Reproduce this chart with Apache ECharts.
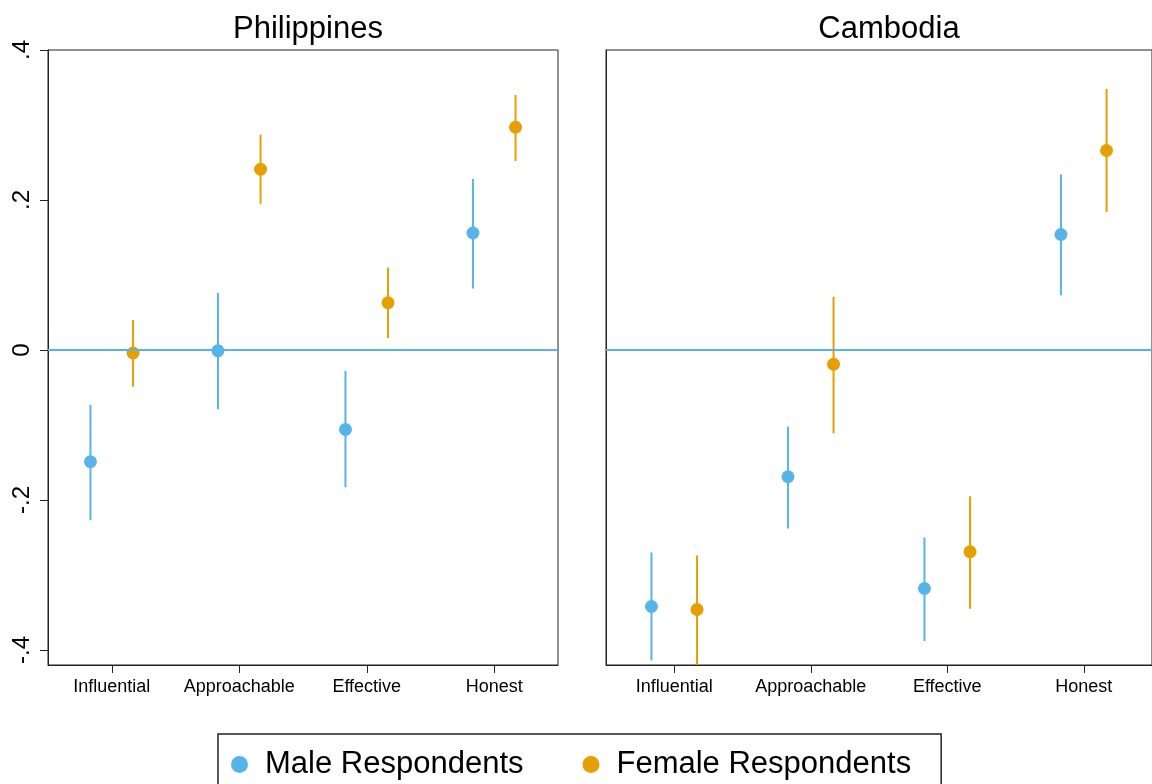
<!DOCTYPE html>
<html>
<head>
<meta charset="utf-8">
<script src="https://cdn.jsdelivr.net/npm/echarts@6/dist/echarts.min.js"></script>
<style>
html, body { margin: 0; padding: 0; background: #fff; }
#chart { width: 1152px; height: 784px; }
</style>
</head>
<body>
<div id="chart"></div>
<script>
// 类别
var categories = ["Influential", "Approachable", "Effective", "Honest"];
var panels = ["Philippines", "Cambodia"];
var yTicks = [-0.4, -0.2, 0, 0.2, 0.4];

// Philippines: 点估计 + 置信区间
var phMaleEst = [-0.149, -0.001, -0.106, 0.156];
var phMaleLo = [-0.227, -0.079, -0.183, 0.082];
var phMaleHi = [-0.073, 0.076, -0.028, 0.228];
var phFemEst = [-0.004, 0.241, 0.063, 0.297];
var phFemLo = [-0.049, 0.195, 0.016, 0.252];
var phFemHi = [0.040, 0.287, 0.110, 0.340];

// Cambodia
var khMaleEst = [-0.342, -0.169, -0.318, 0.154];
var khMaleLo = [-0.414, -0.238, -0.388, 0.073];
var khMaleHi = [-0.270, -0.102, -0.250, 0.234];
var khFemEst = [-0.346, -0.019, -0.269, 0.266];
var khFemLo = [-0.420, -0.111, -0.345, 0.184];
var khFemHi = [-0.274, 0.071, -0.195, 0.348];

var BLUE = "#56B4E9";
var ORANGE = "#E69F00";
var FONT = "'Liberation Sans', Arial, Helvetica, sans-serif";
var OFFSET = 0.167;
var MALE = "Male Respondents";
var FEMALE = "Female Respondents";

var grids = [
    { left: 48, top: 50, width: 510, height: 615 },
    { left: 606, top: 50, width: 556, height: 615 }
];

function fmtTick(v) {
    if (v === 0) return "0";
    return String(v).replace("0.", ".");
}

function renderBar(params, api) {
    var x = api.value(0);
    var p1 = api.coord([x, api.value(1)]);
    var p2 = api.coord([x, api.value(2)]);
    return {
        type: "line",
        shape: { x1: p1[0], y1: p1[1], x2: p2[0], y2: p2[1] },
        style: { stroke: api.visual("color"), lineWidth: 2 }
    };
}

function makeSeries(gi, est, lo, hi, off, name, color) {
    var bars = [], pts = [];
    est.forEach(function (v, i) {
        bars.push([i + off, lo[i], hi[i]]);
        pts.push([i + off, v]);
    });
    return [
        {
            type: "custom",
            name: name,
            xAxisIndex: gi * 2 + 1,
            yAxisIndex: gi,
            renderItem: renderBar,
            clip: true,
            itemStyle: { color: color },
            encode: { x: 0, y: [1, 2] },
            data: bars,
            z: 3
        },
        {
            type: "scatter",
            name: name,
            xAxisIndex: gi * 2 + 1,
            yAxisIndex: gi,
            symbol: "circle",
            symbolSize: 13,
            itemStyle: { color: color, opacity: 1 },
            data: pts,
            z: 4
        }
    ];
}

var xAxes = [], yAxes = [], titles = [];
grids.forEach(function (g, gi) {
    // 类别轴 (标签 + 刻度)
    xAxes.push({
        type: "category",
        gridIndex: gi,
        data: categories,
        boundaryGap: true,
        axisLine: { show: true, onZero: false, lineStyle: { color: "#222", width: 1 } },
        axisTick: { show: true, alignWithLabel: true, length: 8, lineStyle: { color: "#222" } },
        axisLabel: { color: "#000", fontSize: 18, fontFamily: FONT, margin: 13, interval: 0 },
        splitLine: { show: false }
    });
    // 隐藏数值轴 (定位点)
    xAxes.push({
        type: "value",
        gridIndex: gi,
        min: -0.5,
        max: 3.5,
        show: false
    });
    yAxes.push({
        type: "value",
        gridIndex: gi,
        min: -0.42,
        max: 0.4,
        axisLine: { show: true, onZero: false, lineStyle: { color: "#222", width: 1 } },
        axisTick: { show: gi === 0, length: 8, customValues: yTicks, lineStyle: { color: "#222" } },
        axisLabel: {
            show: gi === 0,
            customValues: yTicks,
            rotate: 90,
            margin: 14,
            color: "#000",
            fontSize: 24,
            fontFamily: FONT,
            formatter: fmtTick
        },
        splitLine: { show: false }
    });
    titles.push({
        text: panels[gi],
        left: g.left + g.width / 2,
        top: 9,
        textAlign: "center",
        textStyle: { fontSize: 31, fontWeight: "normal", color: "#000", fontFamily: FONT }
    });
});

var series = []
    .concat(makeSeries(0, phMaleEst, phMaleLo, phMaleHi, -OFFSET, MALE, BLUE))
    .concat(makeSeries(0, phFemEst, phFemLo, phFemHi, OFFSET, FEMALE, ORANGE))
    .concat(makeSeries(1, khMaleEst, khMaleLo, khMaleHi, -OFFSET, MALE, BLUE))
    .concat(makeSeries(1, khFemEst, khFemLo, khFemHi, OFFSET, FEMALE, ORANGE));

// 零参考线
[0, 1].forEach(function (gi) {
    series.push({
        type: "line",
        xAxisIndex: gi * 2 + 1,
        yAxisIndex: gi,
        data: [],
        silent: true,
        z: 2,
        markLine: {
            silent: true,
            symbol: "none",
            label: { show: false },
            lineStyle: { color: BLUE, width: 2, type: "solid" },
            data: [{ yAxis: 0 }]
        }
    });
});

var myChart = echarts.init(document.getElementById("chart"));
myChart.setOption({
    animation: false,
    backgroundColor: "#fff",
    title: titles,
    grid: grids.map(function (g) {
        return {
            left: g.left, top: g.top, width: g.width, height: g.height,
            show: true, borderColor: "#222", borderWidth: 1, backgroundColor: "transparent"
        };
    }),
    xAxis: xAxes,
    yAxis: yAxes,
    legend: {
        left: 218,
        top: 734,
        selectedMode: false,
        itemWidth: 17,
        itemHeight: 17,
        itemGap: 59,
        padding: [15, 30, 20, 13],
        borderColor: "#222",
        borderWidth: 1.5,
        textStyle: { fontSize: 31, color: "#000", fontFamily: FONT, padding: [0, 0, 0, 12] },
        data: [
            { name: MALE, icon: "circle" },
            { name: FEMALE, icon: "circle" }
        ]
    },
    series: series
});
</script>
</body>
</html>
